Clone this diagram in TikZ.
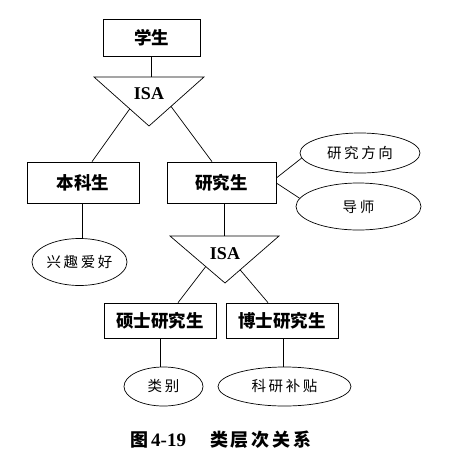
\documentclass[tikz,border=0pt]{standalone}
\usepackage{fontspec}
\newfontfamily\cjk{Noto Sans CJK SC}
\newfontfamily\cjkattr{Noto Sans CJK SC}[LetterSpace=18]
\newfontfamily\cjkcap{Noto Sans CJK SC}[LetterSpace=16]
\newfontfamily\isafont{Liberation Serif}
\usetikzlibrary{positioning,shapes.geometric,calc}

\begin{document}
\begin{tikzpicture}[
    x=1pt, y=-1pt,
    ent/.style={draw, line width=0.7pt, font=\cjk\bfseries\fontsize{17.5}{18}\selectfont,
                inner sep=0pt, minimum width=#1, minimum height=39pt},
    ent/.default=110pt,
    attr/.style={draw, ellipse, line width=0.7pt, font=\cjkattr\fontsize{14.5}{16}\selectfont,
                 inner sep=0pt, minimum width=#1, minimum height=40pt},
    attr/.default=95pt,
    isa/.style={font=\isafont\bfseries\fontsize{18}{18}\selectfont, inner sep=0pt},
    isatri/.style={draw, line width=0.7pt, line join=miter},
    link/.style={line width=0.7pt},
]
  \useasboundingbox (0,0) rectangle (449,474);

  % ---------------- entities ----------------
  \node[ent=97pt, minimum height=37pt] (stu) at (151.5, 37.5) {学生};
  \node[ent=112pt, minimum height=41pt] (ug)  at (83, 182.5)   {本科生};
  \node[ent=109pt, minimum height=41pt] (pg)  at (221.5, 182.5) {研究生};
  \node[ent=112pt, minimum height=35pt] (ms)  at (160, 320.5)  {硕士研究生};
  \node[ent=112pt, minimum height=35pt] (phd) at (282, 320.5)  {博士研究生};

  % ---------------- attributes ----------------
  \node[attr=120pt] (dir)   at (360, 153)     {研究方向};
  \node[attr=125pt, minimum height=47pt] (tutor) at (358.5, 206.5) {导师};
  \node[attr=95pt, minimum height=47pt]  (hobby) at (79.5, 262)    {兴趣爱好};
  \node[attr=79pt, minimum height=39pt]  (kind)  at (163.5, 386.5) {类别};
  \node[attr=133pt, minimum height=39pt] (grant) at (284.5, 386.5) {科研补贴};

  % ---------------- ISA triangles ----------------
  \coordinate (isaAl) at (94, 77);
  \coordinate (isaAr) at (204, 77);
  \coordinate (isaAb) at (149, 126);
  \draw[isatri] (isaAl) -- (isaAr) -- (isaAb) -- cycle;
  \node[isa] (isaA) at (149, 94) {ISA};

  \coordinate (isaBl) at (170, 236);
  \coordinate (isaBr) at (279, 236);
  \coordinate (isaBb) at (225, 283);
  \draw[isatri] (isaBl) -- (isaBr) -- (isaBb) -- cycle;
  \node[isa] (isaB) at (225, 253.5) {ISA};

  % ---------------- connectors ----------------
  \draw[link] (stu.south) -- (stu.south |- isaAl);
  \draw[link] ($(isaAl)!0.65!(isaAb)$) -- ([xshift=9pt]ug.north);
  \draw[link] ($(isaAr)!0.6!(isaAb)$) -- ([xshift=-9.5pt]pg.north);
  \draw[link] ([yshift=4.5pt]pg.east) -- (dir.185);
  \draw[link] ([yshift=-0.5pt]pg.east) -- (tutor.172);
  \draw[link] ([xshift=-1pt]ug.south) -- ([xshift=-1pt]ug.south |- hobby.north);
  \draw[link] ([xshift=2.5pt]pg.south) -- ([xshift=2.5pt]pg.south |- isaBl);
  \draw[link] ($(isaBl)!0.65!(isaBb)$) -- ([xshift=18pt]ms.north);
  \draw[link] ($(isaBr)!0.72!(isaBb)$) -- ([xshift=-14pt]phd.north);
  \draw[link] (ms.south) -- (ms.south |- kind.north);
  \draw[link] ([xshift=1pt]phd.south) -- ([xshift=1pt]phd.south |- grant.north);

  % ---------------- caption ----------------
  \node[font=\cjk\bfseries\fontsize{18}{18}\selectfont, anchor=west, inner sep=0pt] (cap) at (130, 440)
       {图\hspace{3pt}{\isafont\bfseries\fontsize{19}{19}\selectfont 4-19}\hspace{24pt}{\cjkcap\bfseries 类层次关系}};
\end{tikzpicture}
\end{document}
